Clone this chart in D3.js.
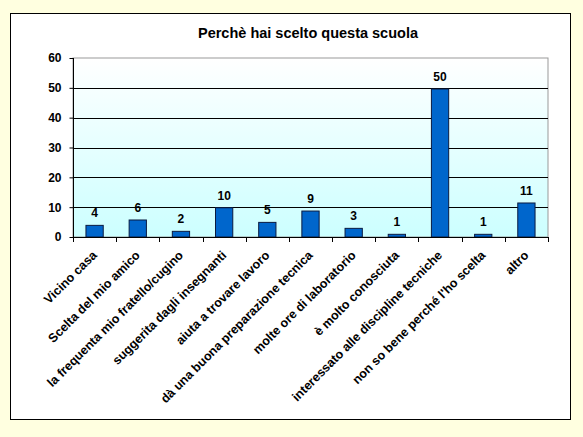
<!DOCTYPE html>
<html>
<head>
<meta charset="utf-8">
<script src="https://cdn.jsdelivr.net/npm/d3@7"></script>
<style>
  html, body { margin: 0; padding: 0; background: #ffffe0; }
  svg { display: block; font-family: Arial, "Liberation Sans", sans-serif; }
</style>
</head>
<body>
<svg id="chart"></svg>
<script>
const categories = [
  "Vicino casa",
  "Scelta del mio amico",
  "la frequenta mio fratello/cugino",
  "suggerita dagli insegnanti",
  "aiuta a trovare lavoro",
  "dà una buona preparazione tecnica",
  "molte ore di laboratorio",
  "è molto conosciuta",
  "interessato alle discipline tecniche",
  "non so bene perché l'ho scelta",
  "altro"
];
const values = [3.9, 5.7, 1.9, 9.8, 4.9, 8.7, 2.9, 0.9, 49.6, 0.9, 11.4];
const yTicks = [0, 10, 20, 30, 40, 50, 60];
const title = "Perchè hai scelto questa scuola";

const W = 583, H = 437;
const plot = {left: 73, top: 58, right: 548, bottom: 237};

const svg = d3.select("#chart").attr("width", W).attr("height", H);

// outer frame
svg.append("rect")
    .attr("x", 10.5).attr("y", 13.5)
    .attr("width", 560).attr("height", 406)
    .attr("fill", "#ffffff")
    .attr("stroke", "#000").attr("stroke-width", 1);

const defs = svg.append("defs");
const grad = defs.append("linearGradient")
    .attr("id", "bg").attr("x1", 0).attr("y1", 0).attr("x2", 0).attr("y2", 1);
grad.append("stop").attr("offset", "0%").attr("stop-color", "#ffffff");
grad.append("stop").attr("offset", "100%").attr("stop-color", "#ccffff");

const x = d3.scaleBand()
    .domain(categories)
    .range([plot.left, plot.right])
    .paddingInner(0.6).paddingOuter(0.3);

const y = d3.scaleLinear()
    .domain([0, 60])
    .range([plot.bottom, plot.top]);

// plot area
svg.append("rect")
    .attr("x", plot.left).attr("y", plot.top)
    .attr("width", plot.right - plot.left).attr("height", plot.bottom - plot.top)
    .attr("fill", "url(#bg)")
    .attr("stroke", "#999").attr("stroke-width", 1);

// gridlines
svg.append("g")
    .selectAll("line")
    .data(yTicks.filter(d => d > 0 && d < 60))
    .join("line")
      .attr("x1", plot.left).attr("x2", plot.right)
      .attr("y1", d => Math.round(y(d)) + 0.5)
      .attr("y2", d => Math.round(y(d)) + 0.5)
      .attr("stroke", "#000");

// bars
svg.append("g")
    .selectAll("rect")
    .data(values)
    .join("rect")
      .attr("x", (d, i) => x(categories[i]))
      .attr("y", d => y(d))
      .attr("width", x.bandwidth())
      .attr("height", d => plot.bottom - y(d))
      .attr("fill", "#0066cc")
      .attr("stroke", "#0a1a40")
      .attr("stroke-width", 1);

// value labels
svg.append("g")
    .selectAll("text")
    .data(values)
    .join("text")
      .attr("x", (d, i) => x(categories[i]) + x.bandwidth() / 2)
      .attr("y", d => y(d) - 8)
      .attr("text-anchor", "middle")
      .style("font-size", "12px")
      .style("font-weight", "bold")
      .text(d => Math.round(d));

// y axis
const yAxis = svg.append("g")
    .attr("transform", `translate(${plot.left + 0.5},0)`)
    .call(d3.axisLeft(y).tickValues(yTicks).tickSize(4).tickPadding(8));
yAxis.select(".domain").attr("stroke", "#000").attr("d", `M0,${plot.top}V${plot.bottom}`);
yAxis.selectAll("text")
    .style("font-size", "12px").style("font-weight", "bold")
    .style("font-family", "Arial, 'Liberation Sans', sans-serif")
    .attr("fill", "#000");

// x axis: ticks at category boundaries
const bounds = d3.range(categories.length + 1).map(i => plot.left + i * (plot.right - plot.left) / categories.length);
const xAxis = svg.append("g");
xAxis.append("line")
    .attr("x1", plot.left).attr("x2", plot.right)
    .attr("y1", plot.bottom + 0.5).attr("y2", plot.bottom + 0.5)
    .attr("stroke", "#000");
xAxis.selectAll("line.tick")
    .data(bounds)
    .join("line")
      .attr("class", "tick")
      .attr("x1", d => Math.round(d) + 0.5).attr("x2", d => Math.round(d) + 0.5)
      .attr("y1", plot.bottom).attr("y2", plot.bottom + 5)
      .attr("stroke", "#000");

xAxis.selectAll("text")
    .data(categories)
    .join("text")
      .attr("transform", d => `translate(${x(d) + x.bandwidth() / 2 + 3},${plot.bottom + 19}) rotate(-45)`)
      .attr("text-anchor", "end")
      .style("font-size", "12.5px")
      .style("font-weight", "bold")
      .text(d => d);

// title
svg.append("text")
    .attr("x", 308)
    .attr("y", 38)
    .attr("text-anchor", "middle")
    .style("font-size", "14.5px")
    .style("font-weight", "bold")
    .text(title);
</script>
</body>
</html>
